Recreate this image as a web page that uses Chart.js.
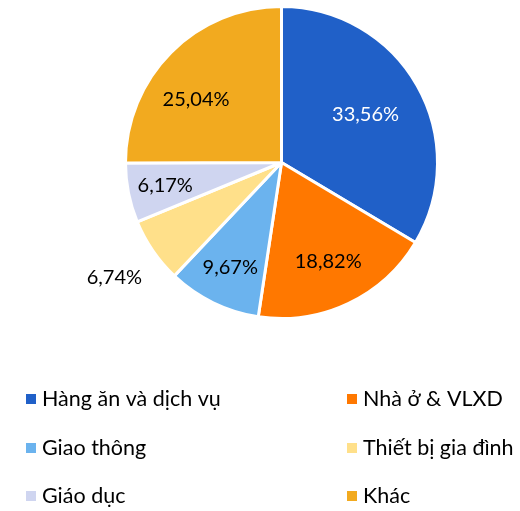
<!DOCTYPE html>
<html>
<head>
<meta charset="utf-8">
<script src="https://cdn.jsdelivr.net/npm/chart.js@4"></script>
<style>
  html, body { margin: 0; padding: 0; background: #fff; }
  #wrap { width: 520px; height: 511px; }
</style>
</head>
<body>
<div id="wrap"><canvas id="myChart" width="520" height="511"></canvas></div>
<script>
const categories = ['Hàng ăn và dịch vụ', 'Nhà ở & VLXD', 'Giao thông', 'Thiết bị gia đình', 'Giáo dục', 'Khác'];
const shares = [33.56, 18.82, 9.67, 6.74, 6.17, 25.04];
const colors = ['#2060C8', '#FF7800', '#6BB3EE', '#FFE08A', '#CFD5F0', '#F2AA1F'];

const FONT = 'Lato, "Open Sans", sans-serif';

// labels inside slices, except the small yellow one which sits outside
const labelRadius = [0.62, 0.7, 0.75, 1.3, 0.76, 0.68];
const labelTurn = [0, 0, 0, 0, 0, -0.15]; // small angle nudge (radians)
const labelColor = ['#ffffff', '#000', '#000', '#000', '#000', '#000'];

const sliceLabels = {
  id: 'sliceLabels',
  afterDatasetsDraw(chart) {
    const ctx = chart.ctx;
    const meta = chart.getDatasetMeta(0);
    ctx.save();
    ctx.font = '20px ' + FONT;
    ctx.textAlign = 'center';
    ctx.textBaseline = 'middle';
    meta.data.forEach((arc, i) => {
      const p = arc.getProps(['x', 'y', 'startAngle', 'endAngle', 'outerRadius'], true);
      const mid = (p.startAngle + p.endAngle) / 2 + labelTurn[i];
      const r = p.outerRadius * labelRadius[i];
      ctx.fillStyle = labelColor[i];
      const txt = shares[i].toFixed(2).replace('.', ',') + '%';
      ctx.fillText(txt, p.x + Math.cos(mid) * r, p.y + Math.sin(mid) * r);
    });
    ctx.restore();
  }
};

// two-column legend under the pie
const gridLegend = {
  id: 'gridLegend',
  afterDraw(chart) {
    const ctx = chart.ctx;
    const colX = [26, 347];
    const rowY = [399, 448, 496];
    ctx.save();
    ctx.font = '21.5px ' + FONT;
    ctx.textBaseline = 'middle';
    ctx.textAlign = 'left';
    categories.forEach((name, i) => {
      const x = colX[i % 2];
      const y = rowY[Math.floor(i / 2)];
      ctx.fillStyle = colors[i];
      ctx.fillRect(x, y - 5, 10, 10);
      ctx.fillStyle = '#000';
      ctx.fillText(name, x + 16, y);
    });
    ctx.restore();
  }
};

new Chart(document.getElementById('myChart').getContext('2d'), {
  type: 'pie',
  data: {
    labels: categories,
    datasets: [{
      data: shares,
      backgroundColor: colors,
      borderColor: '#ffffff',
      borderWidth: 3
    }]
  },
  options: {
    responsive: false,
    animation: false,
    layout: { padding: { left: 124, right: 81, top: 4, bottom: 190 } },
    plugins: {
      legend: { display: false },
      tooltip: { enabled: false }
    }
  },
  plugins: [sliceLabels, gridLegend]
});
</script>
</body>
</html>
